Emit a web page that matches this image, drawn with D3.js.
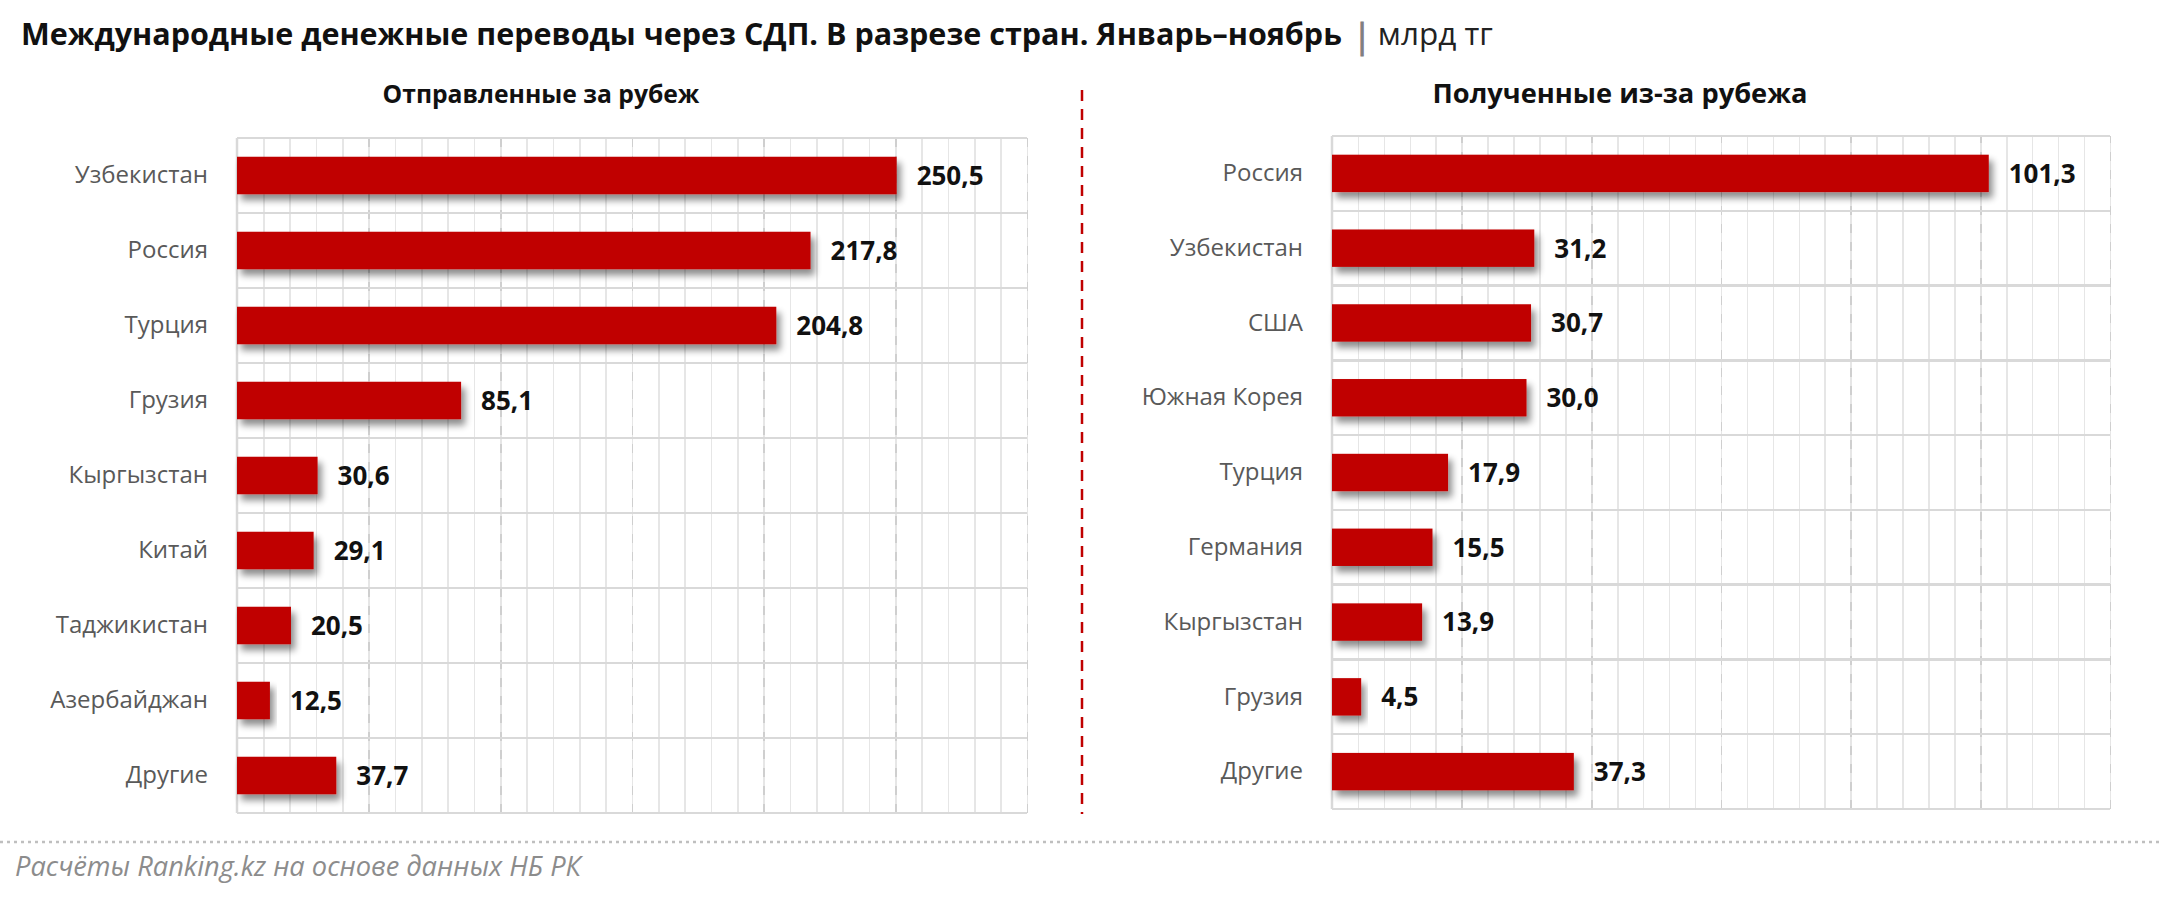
<!DOCTYPE html>
<html>
<head>
<meta charset="utf-8">
<script src="https://cdn.jsdelivr.net/npm/d3@7"></script>
<style>
  body { margin: 0; background: #fff; }
  text { font-family: "Open Sans", "Noto Sans", sans-serif; }
  .grid line { shape-rendering: crispEdges; }
</style>
</head>
<body>
<svg id="chart" width="2160" height="897"></svg>
<script>
// data
var sentCountries = ['Узбекистан', 'Россия', 'Турция', 'Грузия', 'Кыргызстан', 'Китай', 'Таджикистан', 'Азербайджан', 'Другие'];
var sentValues = [250.5, 217.8, 204.8, 85.1, 30.6, 29.1, 20.5, 12.5, 37.7];
var recvCountries = ['Россия', 'Узбекистан', 'США', 'Южная Корея', 'Турция', 'Германия', 'Кыргызстан', 'Грузия', 'Другие'];
var recvValues = [101.3, 31.2, 30.7, 30.0, 17.9, 15.5, 13.9, 4.5, 37.3];

var sentMajorTicks = [0, 50, 100, 150, 200, 250, 300];
var sentMinorTicks = d3.range(0, 301, 10);
var recvMajorTicks = [0, 20, 40, 60, 80, 100, 120];
var recvMinorTicks = d3.range(0, 121, 4);

var titleText = 'Международные денежные переводы через СДП. В разрезе стран. Январь–ноябрь';
var unitText = 'млрд тг';
var sentTitle = 'Отправленные за рубеж';
var recvTitle = 'Полученные из-за рубежа';
var sourceText = 'Расчёты Ranking.kz на основе данных НБ РК';

var svg = d3.select('#chart');
var red = '#c00000';

// shadow under the bars
var defs = svg.append('defs');
var f = defs.append('filter').attr('id', 'shadow')
    .attr('x', '-10%').attr('y', '-30%').attr('width', '130%').attr('height', '180%');
f.append('feGaussianBlur').attr('in', 'SourceAlpha').attr('stdDeviation', 3.5).attr('result', 'blur');
f.append('feOffset').attr('in', 'blur').attr('dx', 4).attr('dy', 6).attr('result', 'off');
f.append('feComponentTransfer').attr('in', 'off').attr('result', 'soft')
  .append('feFuncA').attr('type', 'linear').attr('slope', 0.45);
var merge = f.append('feMerge');
merge.append('feMergeNode').attr('in', 'soft');
merge.append('feMergeNode').attr('in', 'SourceGraphic');

// shrink or grow a text until it has the wanted width
function fitText(sel, width) {
  var fs = parseFloat(sel.attr('font-size'));
  var w = sel.node().getComputedTextLength();
  sel.attr('font-size', fs * width / w);
  return sel;
}

var fmt = function(v) { return d3.format('.1f')(v).replace('.', ','); };

// title
var title = svg.append('text')
    .attr('x', 21).attr('y', 45)
    .attr('font-size', 28).attr('font-weight', 700).attr('fill', '#111')
    .text(titleText);
fitText(title, 1321);
var titleEnd = 21 + title.node().getComputedTextLength();
svg.append('text')
    .attr('x', titleEnd + 11).attr('y', 48)
    .attr('font-size', 34).attr('fill', '#7f7f7f')
    .attr('stroke', '#7f7f7f').attr('stroke-width', 1)
    .text('|');
fitText(svg.append('text')
    .attr('x', titleEnd + 36).attr('y', 45)
    .attr('font-size', 27).attr('fill', '#222')
    .text(unitText), 115);

function drawPanel(opts) {
  var x = d3.scaleLinear().domain(opts.domain).range([opts.left, opts.right]);
  var y = d3.scaleBand().domain(opts.countries)
      .range([opts.top, opts.bottom]).paddingInner(0.5).paddingOuter(0.25);
  var h = opts.bottom - opts.top;
  var g = svg.append('g');

  // minor vertical grid
  g.append('g').attr('class', 'grid')
      .attr('transform', 'translate(0,' + opts.bottom + ')')
      .call(d3.axisBottom(x).tickValues(opts.minor).tickSize(-h).tickFormat(''))
      .call(function(a) {
        a.select('.domain').remove();
        a.selectAll('line').attr('stroke', '#e6e6e6').attr('stroke-width', 1.5);
      });

  // major vertical grid, dashed
  g.append('g').attr('class', 'grid')
      .attr('transform', 'translate(0,' + opts.bottom + ')')
      .call(d3.axisBottom(x).tickValues(opts.major.slice(1)).tickSize(-h).tickFormat(''))
      .call(function(a) {
        a.select('.domain').remove();
        a.selectAll('line').attr('stroke', '#cfcfcf').attr('stroke-width', 1.5)
          .attr('stroke-dasharray', '9,9');
      });

  // row separators
  var rowTops = opts.countries.map(function(c) { return y(c) - y.step() * 0.25; });
  rowTops.push(opts.bottom);
  g.append('g').attr('class', 'grid').selectAll('line').data(rowTops).enter()
    .append('line')
      .attr('x1', opts.left).attr('x2', opts.right)
      .attr('y1', function(d) { return d; }).attr('y2', function(d) { return d; })
      .attr('stroke', '#d9d9d9').attr('stroke-width', 2.5);

  // left edge
  g.append('line')
      .attr('x1', opts.left).attr('x2', opts.left)
      .attr('y1', opts.top).attr('y2', opts.bottom)
      .attr('stroke', '#d9d9d9').attr('stroke-width', 2.5);

  // category labels
  g.append('g')
      .attr('transform', 'translate(' + opts.left + ',0)')
      .call(d3.axisLeft(y).tickSize(0).tickPadding(29))
      .call(function(a) {
        a.select('.domain').remove();
        a.selectAll('text')
          .attr('font-size', 24).attr('fill', '#595959')
          .style('font-family', '"Open Sans", sans-serif');
      });

  var data = opts.countries.map(function(c, i) { return { c: c, v: opts.values[i] }; });

  g.selectAll('rect.bar').data(data).enter()
    .append('rect')
      .attr('class', 'bar')
      .attr('x', x(0))
      .attr('y', function(d) { return y(d.c); })
      .attr('width', function(d) { return x(d.v) - x(0); })
      .attr('height', y.bandwidth())
      .attr('fill', red)
      .attr('filter', 'url(#shadow)');

  g.selectAll('text.val').data(data).enter()
    .append('text')
      .attr('class', 'val')
      .attr('x', function(d) { return x(d.v) + 20; })
      .attr('y', function(d) { return y(d.c) + y.bandwidth() / 2; })
      .attr('dy', '0.36em')
      .attr('font-size', 26).attr('font-weight', 700).attr('fill', '#111')
      .text(function(d) { return fmt(d.v); });

  fitText(svg.append('text')
      .attr('x', opts.center).attr('y', 103)
      .attr('text-anchor', 'middle')
      .attr('font-size', 23).attr('font-weight', 700).attr('fill', '#111')
      .text(opts.title), opts.titleWidth);
}

drawPanel({
  countries: sentCountries, values: sentValues,
  domain: [0, 300], major: sentMajorTicks, minor: sentMinorTicks,
  left: 237, right: 1027, top: 138, bottom: 813,
  center: 541, title: sentTitle, titleWidth: 317
});

drawPanel({
  countries: recvCountries, values: recvValues,
  domain: [0, 120], major: recvMajorTicks, minor: recvMinorTicks,
  left: 1332, right: 2110, top: 136, bottom: 809,
  center: 1620, title: recvTitle, titleWidth: 375
});

// divider between the two panels
svg.append('line')
    .attr('x1', 1082).attr('x2', 1082).attr('y1', 90).attr('y2', 814)
    .attr('stroke', red).attr('stroke-width', 2.5).attr('stroke-dasharray', '11,8');

// footer
svg.append('line')
    .attr('x1', 0).attr('x2', 2160).attr('y1', 842).attr('y2', 842)
    .attr('stroke', '#bfbfbf').attr('stroke-width', 2.5).attr('stroke-dasharray', '3,4');

fitText(svg.append('text')
    .attr('x', 15).attr('y', 876)
    .attr('font-size', 22).attr('font-style', 'italic').attr('fill', '#8c8c8c')
    .text(sourceText), 566);
</script>
</body>
</html>
